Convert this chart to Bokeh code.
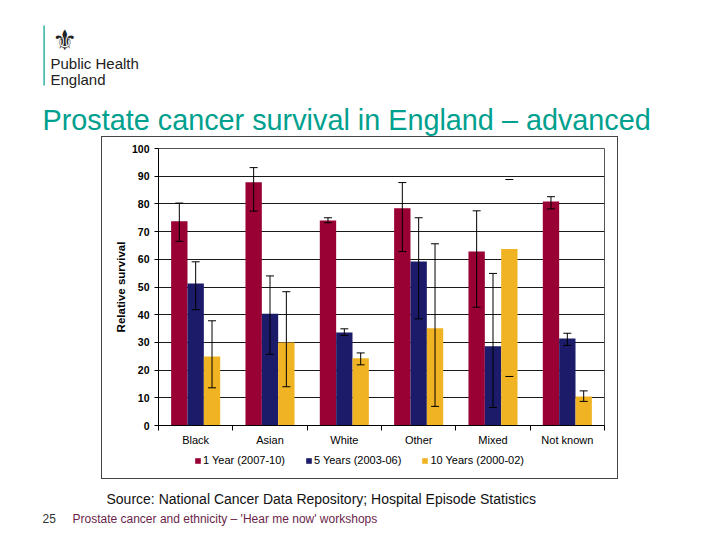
from bokeh.plotting import figure
from bokeh.models import (Range1d, FixedTicker, Label, BoxAnnotation, Legend, LegendItem,
                          ColumnDataSource, Spacer)
from bokeh.layouts import column, row
from bokeh.embed import file_html
from bokeh.resources import INLINE

# ---------------- data ----------------
categories = ["Black", "Asian", "White", "Other", "Mixed", "Not known"]
series_names = ["1 Year (2007-10)", "5 Years (2003-06)", "10 Years (2000-02)"]

one_year = [73.7, 87.8, 74.0, 78.4, 62.8, 80.9]
one_year_lo = [66.5, 77.4, 73.2, 62.8, 42.7, 78.2]
one_year_hi = [80.3, 93.1, 75.0, 87.7, 77.5, 82.6]

five_year = [51.3, 40.3, 33.6, 59.2, 28.6, 31.4]
five_year_lo = [41.8, 25.7, 32.5, 38.5, 6.5, 28.9]
five_year_hi = [59.1, 54.0, 34.9, 75.0, 54.9, 33.3]

ten_year = [24.9, 30.0, 24.3, 35.1, 63.7, 10.5]
ten_year_lo = [13.6, 14.0, 21.9, 6.9, 17.7, 8.7]
ten_year_hi = [37.8, 48.3, 26.2, 65.6, 88.8, 12.5]

# which error-bar stems are drawn (1) or missing (0) in the original
one_year_stem = [1, 1, 1, 1, 1, 1]
five_year_stem = [1, 1, 1, 1, 1, 1]
ten_year_stem = [1, 1, 1, 1, 0, 1]

y_ticks = [0, 10, 20, 30, 40, 50, 60, 70, 80, 90, 100]

colors = ["#990033", "#1b1b69", "#f0b323"]
offsets = [-0.22, 0.0, 0.22]
bar_w = 0.22

FONT = "Liberation Sans"


def blank_fig(w, h):
    f = figure(width=w, height=h, output_backend="svg", toolbar_location=None,
               x_range=Range1d(0, w), y_range=Range1d(h, 0),
               min_border=0, min_border_left=0, min_border_right=0,
               min_border_top=0, min_border_bottom=0)
    f.title.visible = False
    f.axis.visible = False
    f.grid.visible = False
    f.outline_line_color = None
    f.background_fill_color = "white"
    f.border_fill_color = "white"
    return f


def txt(f, x, y, s, size, color, font=FONT, align="left"):
    f.add_layout(Label(x=x, y=y, text=s, text_font=font, text_font_size=size,
                       text_color=color, text_align=align, text_baseline="middle"))


# ---------------- header ----------------
head = blank_fig(720, 136)
head.add_layout(BoxAnnotation(left=43, right=44.2, top=25, bottom=85,
                              fill_color="#00a08e", fill_alpha=1, line_color=None))
txt(head, 64, 40, "\u269C", "28px", "#222222", font="DejaVu Sans", align="center")
txt(head, 50, 63, "Public Health", "15px", "#222222")
txt(head, 50, 79, "England", "15px", "#222222")
txt(head, 42, 119, "Prostate cancer survival in England \u2013 advanced", "28.8px", "#00a08e")

# ---------------- chart ----------------
p = figure(width=515, height=315, output_backend="svg", toolbar_location=None,
           x_range=Range1d(0.5, 6.5), y_range=Range1d(0, 100),
           min_border_left=56, min_border_right=13, min_border_top=11, min_border_bottom=27)
p.title.visible = False
p.background_fill_color = "white"
p.border_fill_color = "white"
p.outline_line_color = "#555555"
p.outline_line_width = 1

p.xgrid.grid_line_color = None
p.ygrid.ticker = FixedTicker(ticks=y_ticks)
p.ygrid.grid_line_color = "#1a1a1a"
p.ygrid.grid_line_width = 1

centers = list(range(1, len(categories) + 1))
p.xaxis.ticker = FixedTicker(ticks=centers,
                             minor_ticks=[c - 0.5 for c in centers] + [centers[-1] + 0.5])
p.xaxis.major_label_overrides = {c: name for c, name in zip(centers, categories)}
p.xaxis.major_tick_line_color = None
p.xaxis.major_tick_out = 5
p.xaxis.minor_tick_out = 5
p.xaxis.minor_tick_in = 0
p.xaxis.minor_tick_line_color = "black"
p.xaxis.axis_line_color = "black"
p.xaxis.major_label_text_font = FONT
p.xaxis.major_label_text_font_size = "11px"
p.xaxis.major_label_text_color = "black"
p.xaxis.major_label_standoff = 3

p.yaxis.ticker = FixedTicker(ticks=y_ticks)
p.yaxis.minor_tick_line_color = None
p.yaxis.major_tick_out = 4
p.yaxis.major_tick_in = 0
p.yaxis.major_tick_line_color = "black"
p.yaxis.axis_line_color = "black"
p.yaxis.major_label_text_font = FONT
p.yaxis.major_label_text_font_size = "10.5px"
p.yaxis.major_label_text_font_style = "bold"
p.yaxis.major_label_text_color = "black"
p.yaxis.major_label_standoff = 5
p.yaxis.axis_label = "Relative survival"
p.yaxis.axis_label_text_font = FONT
p.yaxis.axis_label_text_font_size = "11.5px"
p.yaxis.axis_label_text_font_style = "bold"
p.yaxis.axis_label_text_color = "black"
p.yaxis.axis_label_standoff = 2

vals = [one_year, five_year, ten_year]
los = [one_year_lo, five_year_lo, ten_year_lo]
his = [one_year_hi, five_year_hi, ten_year_hi]
stems = [one_year_stem, five_year_stem, ten_year_stem]

for k in range(3):
    xs = [c + offsets[k] for c in centers]
    src = ColumnDataSource(dict(x=xs, top=vals[k]))
    p.vbar(x="x", top="top", bottom=0, width=bar_w, source=src,
           fill_color=colors[k], line_color=None)
for k in range(3):
    xs = [c + offsets[k] for c in centers]
    src = ColumnDataSource(dict(x=xs, lo=los[k], hi=his[k], stem_alpha=stems[k]))
    p.segment(x0="x", y0="lo", x1="x", y1="hi", source=src, line_color="black",
              line_width=1, line_alpha="stem_alpha")
    p.scatter(x="x", y="lo", source=src, marker="dash", size=8, line_color="black", line_width=1)
    p.scatter(x="x", y="hi", source=src, marker="dash", size=8, line_color="black", line_width=1)

# ---------------- legend strip (inside the chart box) ----------------
leg = blank_fig(515, 26)
items = []
for k in range(3):
    # zero-height proxy so the legend has a swatch to draw
    r = leg.vbar(x=[-50], top=[0], bottom=[0], width=1, fill_color=colors[k], line_color=None)
    items.append(LegendItem(label=series_names[k], renderers=[r]))
legend = Legend(items=items, orientation="horizontal", location=(36, 12),
                background_fill_alpha=0, border_line_color=None,
                label_text_font=FONT, label_text_font_size="11px",
                label_text_color="black", glyph_width=7, glyph_height=7,
                label_standoff=2, spacing=20, padding=0, margin=0,
                label_height=10, label_text_baseline="middle")
leg.add_layout(legend, "center")

chart_box = column(p, leg, spacing=0, styles={"border": "1px solid #444444"})
chart_row = row(Spacer(width=101, height=343), chart_box, spacing=0)

# ---------------- footer ----------------
foot = blank_fig(720, 61)
txt(foot, 106, 19, "Source: National Cancer Data Repository; Hospital Episode Statistics",
    "14px", "#111111")
txt(foot, 42, 39, "25", "12px", "#333333")
txt(foot, 72, 39, "Prostate cancer and ethnicity \u2013 'Hear me now' workshops", "12px", "#6b1f4a")

layout = column(head, chart_row, foot, spacing=0)
open("out.html", "w").write(file_html(layout, INLINE))
